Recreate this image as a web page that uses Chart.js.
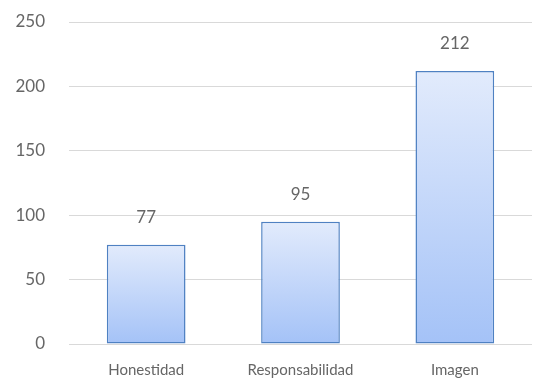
<!DOCTYPE html>
<html><head><meta charset="utf-8">
<script src="https://cdn.jsdelivr.net/npm/chart.js@4/dist/chart.umd.min.js"></script>
<style>html,body{margin:0;padding:0;background:#fff}#wrap{width:533px;height:381px}</style>
</head><body><div id="wrap"><canvas id="c" width="533" height="381"></canvas></div>
<script>
const categories = ["Honestidad", "Responsabilidad", "Imagen"];
const values = [77, 95, 212];
const yTicks = [0, 50, 100, 150, 200, 250];

const FONT = "Lato, 'Open Sans', sans-serif";
const labelPlugin = {
  id: 'valueLabels',
  afterDatasetsDraw(chart) {
    const ctx = chart.ctx;
    const meta = chart.getDatasetMeta(0);
    ctx.save();
    ctx.font = "17px " + FONT;
    ctx.fillStyle = "#666666";
    ctx.textAlign = "center";
    ctx.textBaseline = "middle";
    meta.data.forEach((bar, i) => {
      ctx.fillText(String(values[i]), bar.x, bar.y - 27);
    });
    ctx.restore();
  }
};

new Chart(document.getElementById('c'), {
  type: 'bar',
  data: {
    labels: categories,
    datasets: [{
      data: values,
      backgroundColor(c) {
        const chart = c.chart;
        const ys = chart.scales && chart.scales.y;
        if (!ys || c.raw === undefined || !chart.chartArea) return '#c6d9fa';
        const top = ys.getPixelForValue(c.raw);
        const bot = ys.getPixelForValue(0);
        const g = chart.ctx.createLinearGradient(0, top, 0, bot);
        g.addColorStop(0, '#e2ebfc');
        g.addColorStop(1, '#a4c2f7');
        return g;
      },
      borderColor: '#4f81c2',
      borderWidth: 1.5,
      borderSkipped: false,
      barPercentage: 0.51,
      categoryPercentage: 1.0
    }]
  },
  options: {
    responsive: false,
    animation: false,
    layout: { padding: { top: 22, right: 1, left: 0, bottom: 0 } },
    plugins: { legend: { display: false }, tooltip: { enabled: false } },
    scales: {
      x: {
        afterFit(s) { s.height = 37; s.paddingLeft = 0; s.paddingRight = 0; },
        grid: { display: false, drawTicks: false },
        border: { display: false },
        ticks: { color: '#666666', font: { family: FONT, size: 15 }, padding: 17 }
      },
      y: {
        min: 0, max: 250,
        afterBuildTicks(s) { s.ticks = yTicks.map(v => ({ value: v })); },
        afterFit(s) { s.width = 69; s.paddingTop = 0; s.paddingBottom = 0; },
        grid: { color: '#d9d9d9', lineWidth: 1, drawTicks: false },
        border: { display: false },
        ticks: { color: '#666666', font: { family: FONT, size: 17 }, padding: 24 }
      }
    }
  },
  plugins: [labelPlugin]
});
</script>
</body></html>
